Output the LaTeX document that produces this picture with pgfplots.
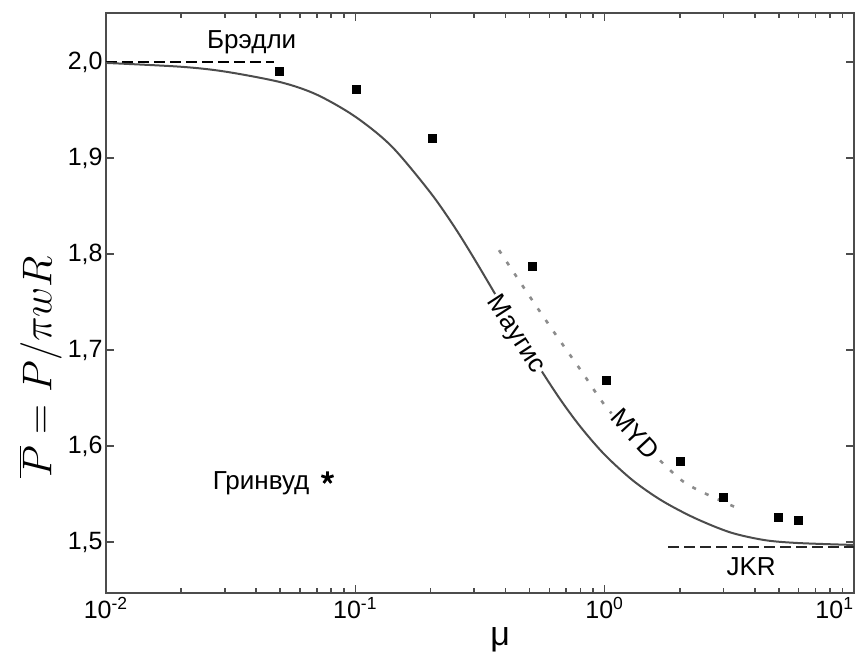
\documentclass[border=0pt]{standalone}
\usepackage{fontspec}
\setmainfont{Liberation Sans}
\usepackage{pgfplots}
\pgfplotsset{compat=1.18}
\usetikzlibrary{plotmarks}

\begin{document}
\begin{tikzpicture}
\begin{axis}[
    scale only axis,
    width=374pt, height=290pt,
    xmode=log,
    xmin=0.01, xmax=10,
    ymin=1.447, ymax=2.051,
    xtick={0.01,0.1,1,10},
    xticklabels={10\textsuperscript{-2},10\textsuperscript{-1},10\textsuperscript{0},\llap{10\textsuperscript{1}}},
    ytick={1.5,1.6,1.7,1.8,1.9,2.0},
    yticklabel style={
        /pgf/number format/use comma,
        /pgf/number format/fixed,
        /pgf/number format/fixed zerofill,
        /pgf/number format/precision=1,
        /pgf/number format/assume math mode=true,
        inner sep=1.5pt},
    ticklabel style={font=\fontsize{12.5}{14}\selectfont},
    xticklabel style={inner sep=2pt},
    tick align=inside,
    major tick length=4pt,
    minor tick length=2.5pt,
    axis line style={line width=1pt, black!70},
    every tick/.style={black!70, line width=0.8pt},
    xlabel={\fontsize{17}{20}\selectfont μ},
    xlabel style={at={(axis description cs:0.527,0)}, anchor=center, yshift=-23.5pt},
    ylabel={\fontsize{20}{24}\selectfont $\overline{P} = P/\pi w R$},
    ylabel style={at={(axis description cs:-0.0876,0.39)}, anchor=center},
    clip=false,
]
% Bradley and JKR limits
\addplot[black, line width=1.3pt, dash pattern=on 5.5pt off 2.5pt] coordinates {(0.01,2.0) (0.047,2.0)};
\addplot[black!85, line width=1.3pt, dash pattern=on 5.5pt off 2.5pt] coordinates {(1.8,1.495) (10,1.495)};

% Maugis
\addplot[black!70, line width=1pt, smooth] coordinates {
    (0.01,1.999) (0.02,1.995) (0.03,1.990) (0.05,1.979) (0.07,1.966)
    (0.1,1.943) (0.14,1.912) (0.2,1.864) (0.25,1.828) (0.3,1.795)
    (0.38,1.750) (0.5,1.698) (0.65,1.652) (0.8,1.620) (1.0,1.591)
    (1.3,1.564) (1.7,1.543) (2.3,1.525) (3.2,1.510) (4.4,1.502)
    (6.0,1.499) (10,1.497)
};

% MYD
\addplot[black!45, line width=1.3pt, dash pattern=on 2pt off 5pt, smooth] coordinates {
    (0.377,1.804) (0.488,1.760) (0.625,1.719) (0.802,1.679) (1.037,1.6375)
    (1.43,1.602) (1.977,1.567) (2.377,1.554) (3.436,1.535)
};

% experiment
\addplot[only marks, mark=square*, mark size=2pt, black] coordinates {
    (0.0497,1.990) (0.101,1.971) (0.203,1.9205) (0.512,1.787) (1.02,1.668)
    (2.01,1.584) (2.99,1.547) (4.97,1.526) (5.97,1.523)
};

% Greenwood
\addplot[only marks, mark=star, mark size=3.2pt, mark options={line width=1.4pt}, black] coordinates {(0.0773,1.567)};

\node[font=\fontsize{13}{15}\selectfont] at (axis cs:0.0384,2.021) {Брэдли};
\node[font=\fontsize{13}{15}\selectfont] at (axis cs:3.87,1.474) {JKR};
\node[font=\fontsize{13}{15}\selectfont, anchor=east] at (axis cs:0.0698,1.5615) {Гринвуд};
\node[font=\fontsize{13}{15}\selectfont, fill=white, inner sep=1pt, rotate=-57] at (axis cs:0.439,1.716) {Маугис};
\node[font=\fontsize{13}{15}\selectfont, fill=white, inner sep=1pt, rotate=-47] at (axis cs:1.327,1.613) {MYD};
\end{axis}
\path ([shift={(-53pt,-30pt)}]current axis.south west) rectangle ([shift={(4.5pt,6.5pt)}]current axis.north east);
\end{tikzpicture}
\end{document}
